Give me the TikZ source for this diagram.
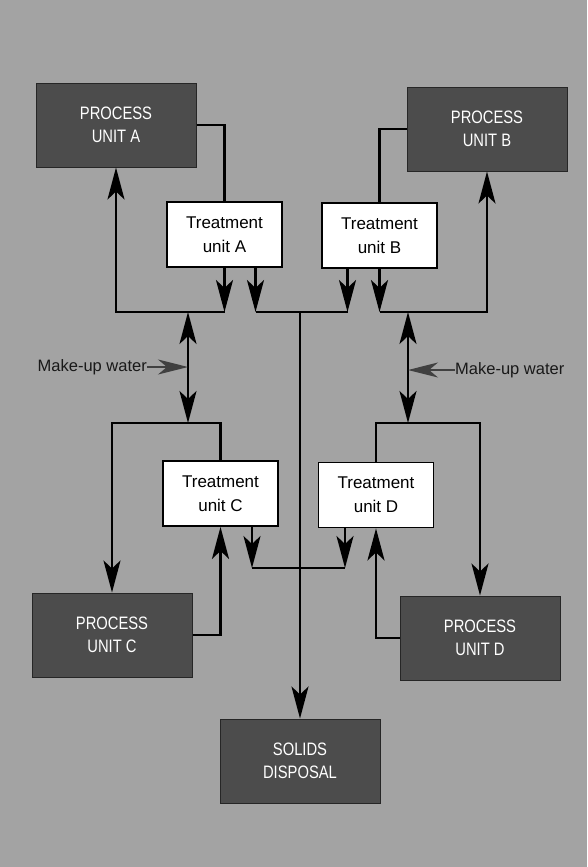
\documentclass[tikz,border=0pt]{standalone}
\usepackage{fontspec}
\setmainfont{Liberation Sans}
\newfontfamily\condfont[FakeStretch=0.82]{Liberation Sans}
\usetikzlibrary{arrows.meta,calc}
\begin{document}
\begin{tikzpicture}[x=1pt,y=-1pt,
  proc/.style={draw=black!85,line width=1pt,fill=black!70,text=white,minimum width=160pt,minimum height=84pt,align=center,font=\condfont\fontsize{18}{23}\selectfont,inner sep=0pt},
  treat/.style={draw=black,line width=1.8pt,fill=white,minimum width=115pt,minimum height=65pt,align=center,font=\fontsize{17}{24}\selectfont,inner sep=0pt},
  pipe/.style={line width=2.6pt,black},
  tip/.tip={Stealth[length=32pt,width=17pt,inset=8pt]},
  arr/.style={pipe,-tip},
  darr/.style={pipe,tip-tip},
  mkarr/.style={line width=1.4pt,black!75,-{Stealth[length=30pt,width=15pt,inset=9pt]}},
  lbl/.style={font=\fontsize{16.5}{18}\selectfont,text=black!90,inner sep=0pt}
]
\fill[black!36] (0,0) rectangle (587,867);
\useasboundingbox (0,0) rectangle (587,867);

% process units
\node[proc] (PA) at (116,125) {PROCESS\\UNIT A};
\node[proc] (PB) at (487,129) {PROCESS\\UNIT B};
\node[proc] (PC) at (112,635) {PROCESS\\UNIT C};
\node[proc] (PD) at (480,638) {PROCESS\\UNIT D};
\node[proc] (SD) at (300,761) {SOLIDS\\DISPOSAL};

% treatment units
\node[treat] (TA) at (224.5,234.5) {Treatment\\unit A};
\node[treat] (TB) at (379.5,235.5) {Treatment\\unit B};
\node[treat] (TC) at (220.5,493.5) {Treatment\\unit C};
\node[treat] (TD) at (376,495) {Treatment\\unit D};

% labels
\node[lbl,anchor=east] (mwL) at (147,367) {Make-up water};
\node[lbl,anchor=west] (mwR) at (455,370) {Make-up water};

% junction coordinates
\coordinate (jA) at (224.5,312);
\coordinate (jB) at (379.5,312);
\coordinate (sA) at (255.5,312);
\coordinate (sB) at (347.5,312);
\coordinate (sC) at (300,312);
\coordinate (mA) at (188,312);
\coordinate (mC) at (188,423);
\coordinate (mB) at (408,312);
\coordinate (mD) at (408,423);
\coordinate (kL) at (188,367);
\coordinate (kR) at (408,370);
\coordinate (s2A) at (252,568);
\coordinate (s2B) at (345,568);

% top half
\draw[pipe] (PA.east) -| (TA.north);
\draw[pipe] (PB.west) -| (TB.north);
\draw[arr] (TA.south) -- (jA);
\draw[arr] (jA) -| (PA.south);
\draw[arr] (TB.south) -- (jB);
\draw[arr] (jB) -| (PB.south);
\draw[arr] (TA.south -| sA) -- (sA);
\draw[arr] (TB.south -| sB) -- (sB);
\draw[pipe] (sA) -- (sB);
\draw[arr] (sC) -- (SD.north);

% make-up water
\draw[darr] (mC) -- (mA);
\draw[darr] (mD) -- (mB);
\draw[mkarr] (mwL.east) -- (kL);
\draw[mkarr] (mwR.west) -- (kR);

% bottom half
\draw[arr] (TC.north) |- (mC -| PC.north) -- (PC.north);
\draw[arr] (TD.north) |- (mD -| PD.north) -- (PD.north);
\draw[arr] (PC.east) -| (TC.south);
\draw[arr] (PD.west) -| (TD.south);
\draw[arr] (TC.south -| s2A) -- (s2A);
\draw[arr] (TD.south -| s2B) -- (s2B);
\draw[pipe] (s2A) -- (s2B);
\end{tikzpicture}
\end{document}
